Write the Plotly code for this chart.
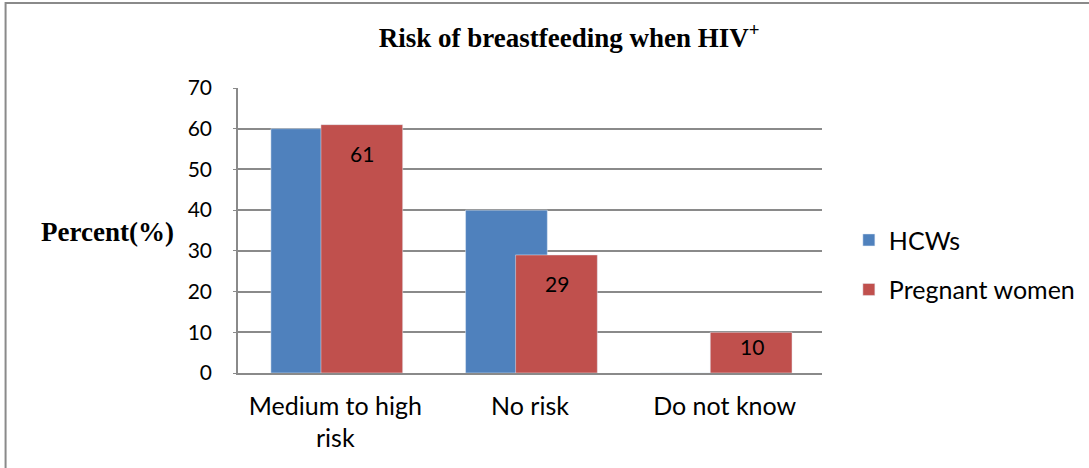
import plotly.graph_objects as go

categories = ["Medium to high<br>risk", "No risk", "Do not know"]
hcws = [60, 40, 0]
pregnant = [61, 29, 10]
y_ticks = [0, 10, 20, 30, 40, 50, 60, 70]

blue = "#4F81BD"
red = "#C0504D"
grey = "#8a8a8a"
label_font = "Lato, Calibri, sans-serif"
serif = "Liberation Serif, Times New Roman, serif"

fig = go.Figure()
fig.add_trace(go.Bar(
    x=categories, y=hcws, name="HCWs", marker_color=blue,
    width=0.42, offset=-0.331, legendgroup="a",
))
fig.add_trace(go.Bar(
    x=categories, y=pregnant, name="Pregnant women", marker_color=red,
    width=0.42, offset=-0.074, legendgroup="b",
))

# data labels on the pregnant women bars, inside near the top
for cat, v in zip(categories, pregnant):
    fig.add_annotation(
        x=cat, y=v, xref="x", yref="y", text=str(v), showarrow=False,
        xshift=27, yshift=-29 if v > 15 else -14, yanchor="middle",
        font=dict(family=label_font, size=21, color="black"),
    )

fig.add_annotation(
    x=-0.223, y=0.495, xref="paper", yref="paper", text="<b>Percent(%)</b>",
    showarrow=False, xanchor="center", yanchor="middle",
    font=dict(family=serif, size=27, color="black"),
)

# outer chart frame
fig.add_shape(
    type="rect", xref="paper", yref="paper",
    x0=-0.398, x1=1.6, y0=-0.6, y1=1.298,
    line=dict(color=grey, width=2), fillcolor="rgba(0,0,0,0)",
)

fig.update_layout(
    width=1089, height=468,
    margin=dict(l=238, r=267, t=88, b=95, autoexpand=False),
    barmode="overlay",
    plot_bgcolor="white", paper_bgcolor="white",
    title=dict(
        text="<b>Risk of breastfeeding when HIV<sup>+</sup></b>",
        x=0.567, xref="paper", xanchor="center",
        y=1 - 38 / 468, yanchor="middle",
        font=dict(family=serif, size=27, color="black"),
    ),
    legend=dict(
        x=1.046, y=0.38, xanchor="left", yanchor="middle",
        font=dict(family=label_font, size=25, color="black"),
        tracegroupgap=14, bgcolor="rgba(0,0,0,0)",
    ),
    showlegend=True,
)
fig.update_xaxes(
    showline=True, linecolor=grey, linewidth=1.5,
    tickfont=dict(family=label_font, size=25, color="black"),
    ticks="", ticklabelstandoff=10,
)
fig.update_yaxes(
    range=[0, 70], tickvals=y_ticks,
    showgrid=True, gridcolor=grey, gridwidth=1.5,
    showline=True, linecolor=grey, linewidth=1.5,
    ticks="outside", ticklen=3, tickcolor=grey,
    ticklabelstandoff=17, zeroline=False,
    tickfont=dict(family=label_font, size=21, color="black"),
)

fig.write_html(
    "out.html",
    config={"displayModeBar": False},
    post_script="document.body.style.margin='0px';",
)
